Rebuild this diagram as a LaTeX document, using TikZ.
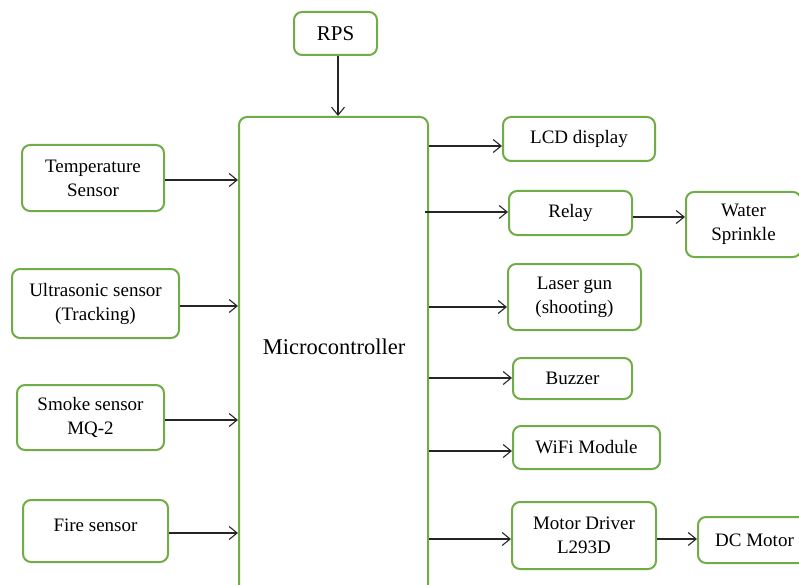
\documentclass[tikz,border=0pt]{standalone}
\usepackage{fontspec}
\setmainfont{Liberation Serif}
\usetikzlibrary{arrows.meta}

\begin{document}
\begin{tikzpicture}[x=1pt,y=-1pt,
    block/.style={draw=boxGreen,line width=2pt,rounded corners=8pt,fill=white,
        align=center,inner sep=2pt,font=\fontsize{19}{24}\selectfont},
    link/.style={draw=black!85,line width=1.1pt,-{Straight Barb[length=8pt,width=13pt]}}]
% Colors define
\definecolor{boxGreen}{HTML}{70AD47}

% Page size
\useasboundingbox (0,0) rectangle (799,585);
\clip (0,0) rectangle (799,585);

% Microcontroller (runs past the bottom edge)
\node[block,minimum width=189pt,minimum height=523pt] (mc) at (333.5,378.5) {};
\node[font=\fontsize{22.5}{26}\selectfont] (mcText) at (334,347) {Microcontroller};

% Top
\node[block,minimum width=83pt,minimum height=43pt,font=\fontsize{21}{24}\selectfont] (rps) at (335.5,33.5) {RPS};

% Sensors on the left
\node[block,minimum width=142pt,minimum height=66pt] (temp) at (93,178) {Temperature\\Sensor};
\node[block,minimum width=167pt,minimum height=69pt] (ultra) at (95.5,303.5) {Ultrasonic sensor\\(Tracking)};
\node[block,minimum width=147pt,minimum height=65pt] (smoke) at (90.5,417.5) {Smoke sensor\\MQ-2};
\node[block,minimum width=145pt,minimum height=62pt,text depth=12pt] (fire) at (95.5,531) {Fire sensor};

% Outputs on the right
\node[block,minimum width=152pt,minimum height=44pt] (lcd) at (579,139) {LCD display};
\node[block,minimum width=123pt,minimum height=44pt] (relay) at (570.5,213) {Relay};
\node[block,minimum width=115pt,minimum height=65pt] (water) at (743.5,224.5) {Water\\Sprinkle};
\node[block,minimum width=133pt,minimum height=66pt] (laser) at (574.5,297) {Laser gun\\(shooting)};
\node[block,minimum width=119pt,minimum height=41pt] (buzzer) at (572.5,378.5) {Buzzer};
\node[block,minimum width=147pt,minimum height=43pt] (wifi) at (586.5,447.5) {WiFi Module};
\node[block,minimum width=144pt,minimum height=67pt] (driver) at (584,535.5) {Motor Driver\\L293D};
\node[block,minimum width=113pt,minimum height=46pt] (dc) at (754.5,540) {DC Motor};

% Inputs
\draw[link] ([xshift=2.5pt]rps.south) -- ([xshift=2.5pt]rps.south |- mc.north);
\draw[link] ([yshift=-2pt]temp.east) -- ([yshift=-2pt]temp.east -| mc.west);
\draw[link] ([yshift=-2.5pt]ultra.east) -- ([yshift=-2.5pt]ultra.east -| mc.west);
\draw[link] ([yshift=-2.5pt]smoke.east) -- ([yshift=-2.5pt]smoke.east -| mc.west);
\draw[link] ([yshift=-2pt]fire.east) -- ([yshift=-2pt]fire.east -| mc.west);

% Outputs
\draw[link] ([yshift=-7pt]mc.east |- lcd.west) -- ([yshift=-7pt]lcd.west);
\draw[link] ([xshift=-4pt,yshift=1pt]mc.east |- relay.west) -- ([yshift=1pt]relay.west);
\draw[link] ([yshift=-4pt]relay.east) -- ([yshift=-4pt]relay.east -| water.west);
\draw[link] ([yshift=-10pt]mc.east |- laser.west) -- ([yshift=-10pt]laser.west);
\draw[link] ([yshift=0.5pt]mc.east |- buzzer.west) -- ([yshift=0.5pt]buzzer.west);
\draw[link] ([yshift=-3.5pt]mc.east |- wifi.west) -- ([yshift=-3.5pt]wifi.west);
\draw[link] ([yshift=-3.5pt]mc.east |- driver.west) -- ([yshift=-3.5pt]driver.west);
\draw[link] ([yshift=-3.5pt]driver.east) -- ([yshift=-3.5pt]driver.east -| dc.west);
\end{tikzpicture}
\end{document}
